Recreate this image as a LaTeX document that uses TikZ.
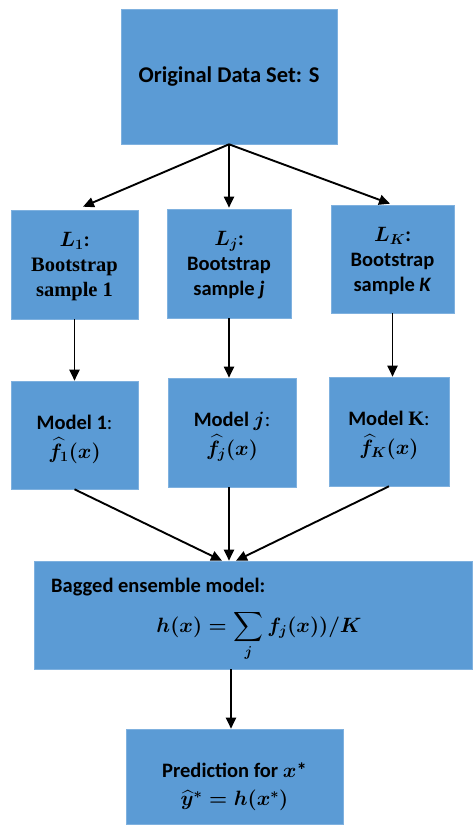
\documentclass[tikz,border=0pt]{standalone}
\usepackage{amsmath,bm}
\usepackage{fontspec}
\setmainfont{Carlito}
\newfontfamily\timesfont{Liberation Serif}
\usetikzlibrary{arrows.meta}
\definecolor{boxblue}{HTML}{5B9BD5}
\definecolor{boxedge}{HTML}{7FB1DF}
\tikzset{
  blockbox/.style={rectangle, fill=boxblue, draw=boxedge, line width=0.6pt,
    align=center, inner sep=2pt,
    font=\fontsize{20.5}{25}\selectfont\bfseries\boldmath},
  boxtext/.style={align=center, inner sep=1pt,
    font=\fontsize{20.5}{25}\selectfont\bfseries\boldmath},
  flow/.style={line width=1.9pt, -{Triangle[length=11pt,width=10pt]}}
}
\begin{document}
\begin{tikzpicture}[x=1pt,y=-1pt]
\useasboundingbox (0,0) rectangle (474,834);
% source data set
\node[blockbox, minimum width=216pt, minimum height=135pt,
  font=\fontsize{22.5}{27}\selectfont\bfseries] (S) at (229,76.5)
  {Original Data Set: S};
% bootstrap samples
\node[blockbox, minimum width=127pt, minimum height=109pt] (L1) at (74.5,264.5) {};
\node[boxtext] (L1t) at (74.5,266.5)
  {$L_1$:\\{\timesfont Bootstrap}\\{\timesfont sample 1}};
\node[blockbox, minimum width=124pt, minimum height=109pt] (Lj) at (229,263.5) {};
\node[boxtext] (Ljt) at (229,265.5)
  {$L_j$:\\Bootstrap\\sample \textit{j}};
\node[blockbox, minimum width=123pt, minimum height=108pt] (LK) at (392.5,259) {};
\node[boxtext] (LKt) at (392.5,261)
  {$L_K$:\\Bootstrap\\sample \textit{K}};
% fitted models
\node[blockbox, minimum width=127pt, minimum height=108pt] (M1) at (74.5,435) {};
\node[boxtext] (M1t) at (74.5,439)
  {Model 1\textmd{:}\\[4pt]$\widehat{f}_{1}(x)$};
\node[blockbox, minimum width=128pt, minimum height=109pt] (Mj) at (232,432.5) {};
\node[boxtext] (Mjt) at (232,436.5)
  {Model $j$\textmd{:}\\[4pt]$\widehat{f}_{j}(x)$};
\node[blockbox, minimum width=120pt, minimum height=109pt] (MK) at (389,431.5) {};
\node[boxtext] (MKt) at (389,435.5)
  {Model {\timesfont K}\textmd{:}\\[4pt]$\widehat{f}_{K}(x)$};
% ensemble
\node[blockbox, minimum width=438pt, minimum height=108pt] (B) at (253,615) {};
\node[boxtext, anchor=base west] (Btitle)
  at (50,592) {Bagged ensemble model:};
\node[boxtext, font=\fontsize{20.5}{25}\selectfont\boldmath] (Bform) at (259,636)
  {$\displaystyle h(x)=\sum_{j} f_j(x))/K$};
% prediction
\node[blockbox, minimum width=217pt, minimum height=95pt] (P) at (234.5,776.5) {};
\node[boxtext] (Pt) at (234.5,787)
  {Prediction for $x$*\\[3pt]$\widehat{y}^{*}=h(x^{*})$};
% connectors
\draw[flow] (S.south) -- ([xshift=8.5pt,yshift=3pt]L1.north);
\draw[flow] (S.south) -- ([yshift=1pt]Lj.north);
\draw[flow] (S.south) -- ([xshift=-2.5pt,yshift=1pt]LK.north);
\draw[flow] (L1.south) -- (L1.south |- M1.north);
\draw[flow] (Lj.south) -- (Lj.south |- Mj.north);
\draw[flow] (LK.south) -- (LK.south |- MK.north);
\draw[flow] (M1.south) -- ([xshift=-31pt]B.north);
\draw[flow] ([xshift=-3pt]Mj.south) -- ([xshift=-24pt]B.north);
\draw[flow] (MK.south) -- ([xshift=-17pt]B.north);
\draw[flow] ([xshift=-22pt]B.south) -- ([xshift=-22pt]B.south |- P.north);
\end{tikzpicture}
\end{document}
